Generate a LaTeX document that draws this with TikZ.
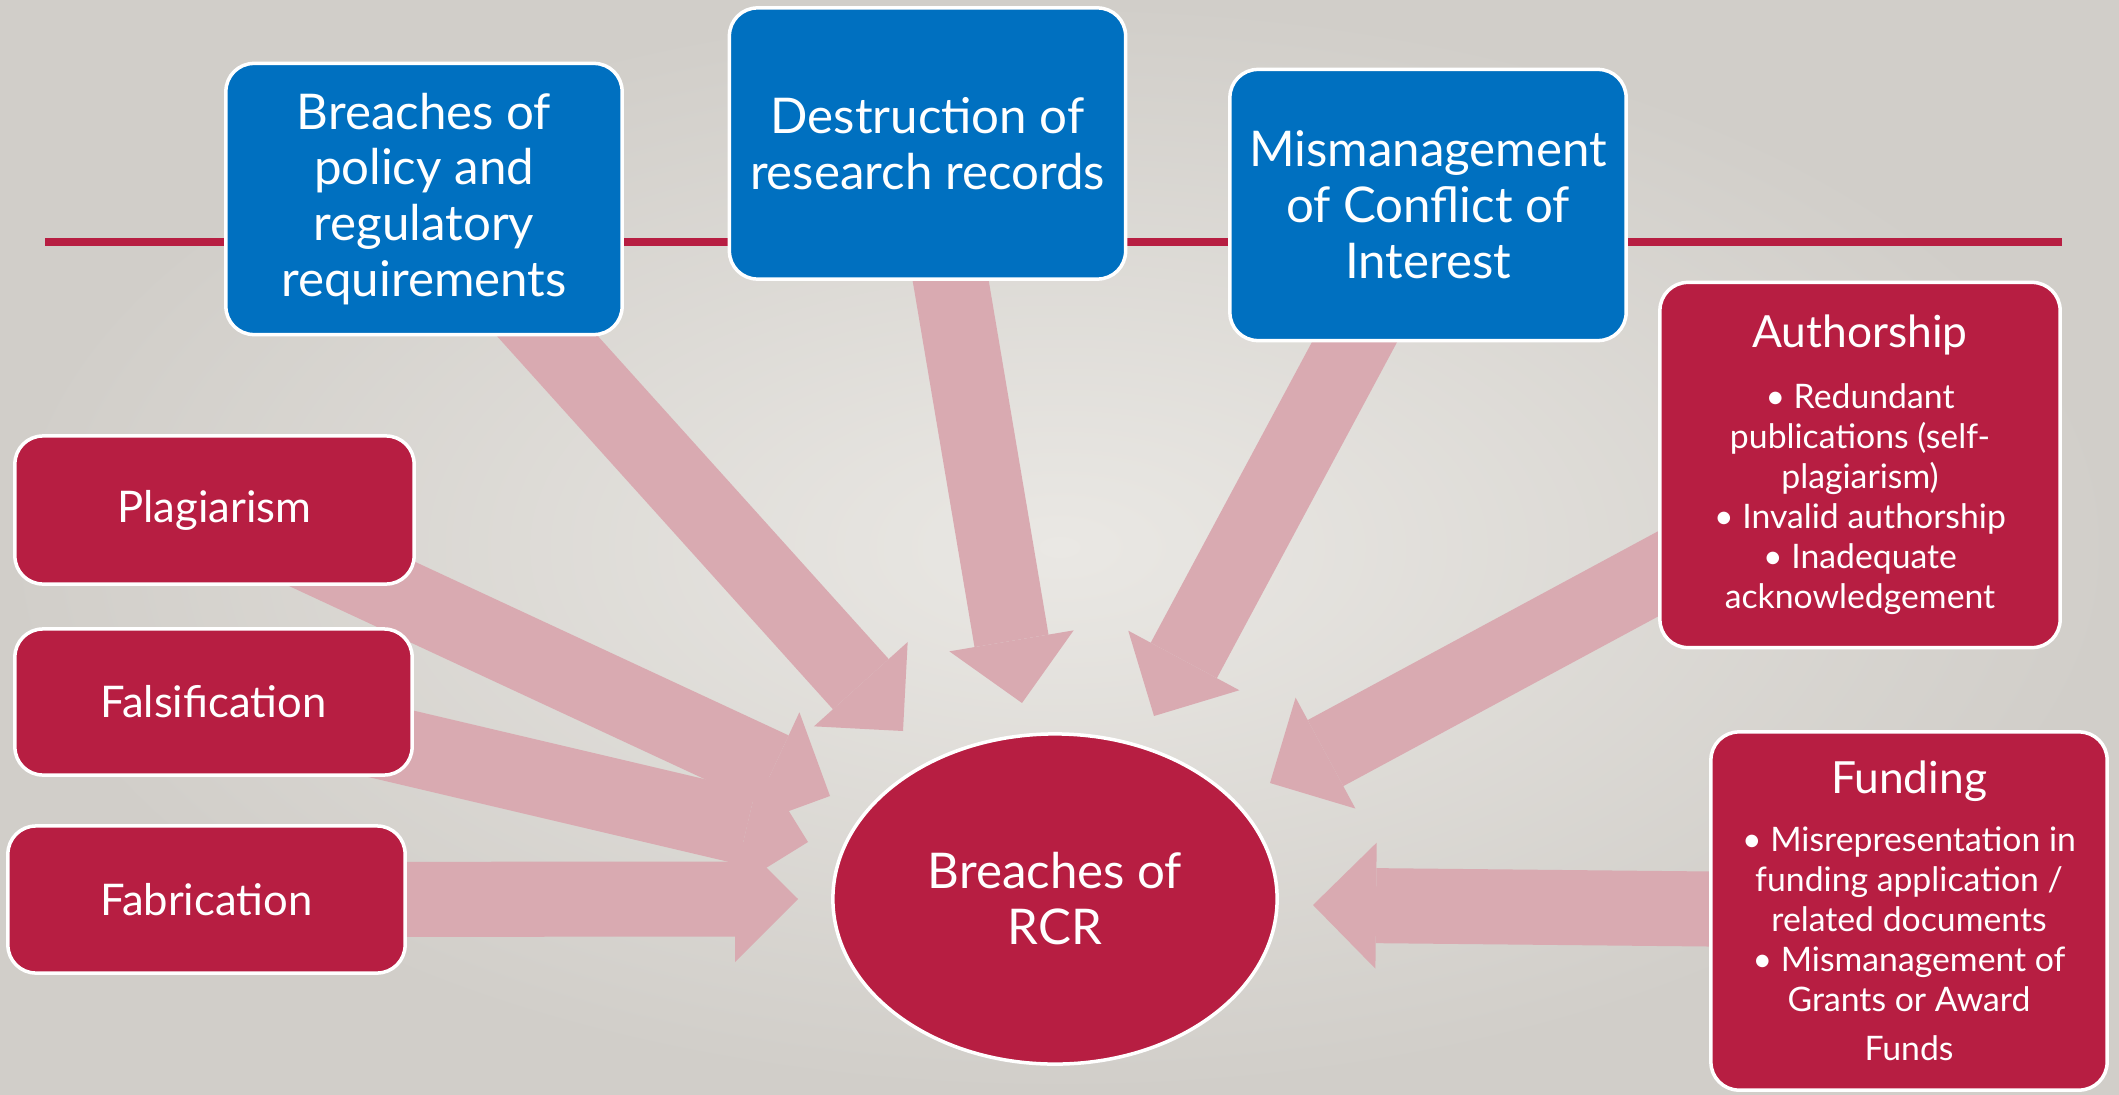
\documentclass[tikz,border=0pt]{standalone}
\usepackage{fontspec}
\setmainfont{Lato}
\usetikzlibrary{arrows.meta,backgrounds,shapes.geometric}

\definecolor{rcrred}{HTML}{B71E42}
\definecolor{rcrblue}{HTML}{0070C0}
\definecolor{flowpink}{HTML}{D9AAB1}
\definecolor{bgmid}{HTML}{EAE8E4}
\definecolor{bgedge}{HTML}{D1CEC9}

\newcommand{\bigtext}{\fontsize{14}{15.9}\selectfont}
\newcommand{\boxtext}{\fontsize{12.4}{15}\selectfont}
\newcommand{\headtext}{\fontsize{12.6}{15}\selectfont}
\newcommand{\itemtext}{\fontsize{9.6}{11.4}\selectfont}

\tikzset{
  box/.style={rounded corners=0.28cm, draw=white, line width=0.035cm,
    text=white, align=center, inner sep=0pt},
  bluebox/.style={box, fill=rcrblue, minimum width=3.96cm,
    minimum height=2.71cm, font=\bigtext},
  redbox/.style={box, fill=rcrred, font=\boxtext},
  listbox/.style={box, fill=rcrred, font=\itemtext},
  flow/.style={draw=flowpink, line width=0.75cm,
    -{Triangle[length=0.63cm, width=1.26cm, line width=0pt]}},
}

\begin{document}
\begin{tikzpicture}[x=0.01cm, y=-0.01cm]
\useasboundingbox (0,0) rectangle (2119,1094);

%========================
% blue boxes on the rule
%========================
\node[bluebox] (policy) at (424,199)
    {Breaches of\\policy and\\regulatory\\requirements};
\node[bluebox] (destruct) at (927.5,143.5)
    {Destruction of\\research records};
\node[bluebox] (conflict) at (1428,205)
    {Mismanagement\\of Conflict of\\Interest};

%========================
% red boxes, left
%========================
\node[redbox, minimum width=3.99cm, minimum height=1.48cm] (plag) at (214.5,510) {Plagiarism};
\node[redbox, minimum width=3.97cm, minimum height=1.46cm] (falsif) at (213.5,702) {Falsification};
\node[redbox, minimum width=3.97cm, minimum height=1.47cm] (fabric) at (206.5,899.5) {Fabrication};

%========================
% red boxes, right
%========================
\node[listbox, minimum width=4cm, minimum height=3.65cm] (author) at (1860,465)
    {{\headtext Authorship}\\[0.2cm]
     \textbullet~Redundant\\publications (self-\\plagiarism)\\
     \textbullet~Invalid authorship\\
     \textbullet~Inadequate\\acknowledgement};
\node[listbox, minimum width=3.96cm, minimum height=3.58cm] (funding) at (1909,911)
    {{\headtext Funding}\\[0.18cm]
     \textbullet~Misrepresentation in\\funding application /\\related documents\\
     \textbullet~Mismanagement of\\Grants or Award\\[0.09cm]
     Funds};

%========================
% centre
%========================
\node[ellipse, draw=white, line width=0.035cm, fill=rcrred, text=white,
    minimum width=4.44cm, minimum height=3.3cm, font=\bigtext, align=center]
    (rcr) at (1055,899) {Breaches of\\RCR};

%========================
% arrow tips
%========================
\coordinate (tip policy)   at (903,731);
\coordinate (tip destruct) at (1022,703);
\coordinate (tip conflict) at (1154,716);
\coordinate (tip author)   at (1270,783);
\coordinate (tip funding)  at (1313,905);
\coordinate (tip plag)     at (830,796);
\coordinate (tip falsif)   at (808,842);
\coordinate (tip fabric)   at (798,899);

\begin{scope}[on background layer]
  % backdrop and rule
  \shade[inner color=bgmid, outer color=bgedge] (0,0) rectangle (2119,1094);
  \draw[rcrred, line width=0.07cm] (45,242) -- (2062,242);

  % arrows into the centre
  \draw[flow] (policy.center)   -- (tip policy);
  \draw[flow] (destruct.center) -- (tip destruct);
  \draw[flow] (conflict.center) -- (tip conflict);
  \draw[flow] (author.center)   -- (tip author);
  \draw[flow] (funding.center)  -- (tip funding);
  \draw[flow] (plag.center)     -- (tip plag);
  \draw[flow] (falsif.center)   -- (tip falsif);
  \draw[flow] (fabric.center)   -- (tip fabric);
\end{scope}

\end{tikzpicture}
\end{document}
